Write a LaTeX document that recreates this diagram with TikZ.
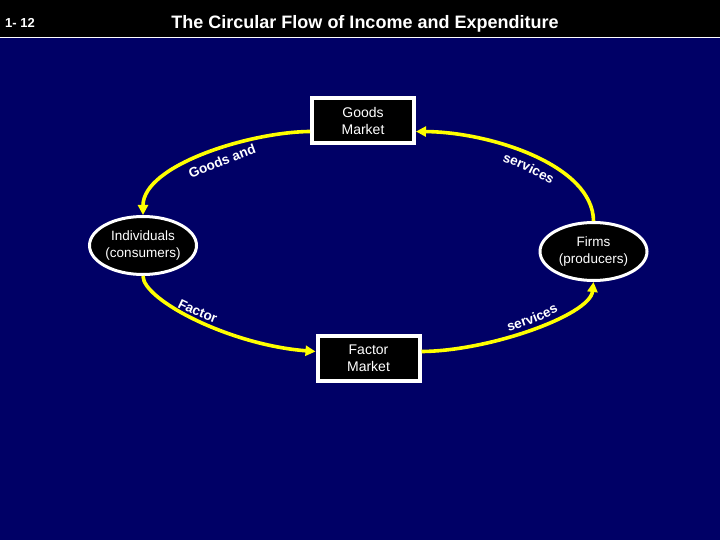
\documentclass[tikz,border=0pt]{standalone}
\usepackage{fontspec}
\setmainfont{Liberation Sans}
\usetikzlibrary{shapes.geometric,arrows.meta,decorations.text}
\definecolor{navy}{RGB}{0,0,102}
\definecolor{flowyellow}{RGB}{255,255,0}
\newcommand\lblfont{\fontsize{13.5}{16}\selectfont\bfseries}
\begin{document}
\begin{tikzpicture}[x=1pt,y=-1pt,
  market/.style={draw=white, fill=black, line width=4pt, text=white,
    minimum width=102pt, minimum height=45pt, inner sep=0pt, align=center,
    font=\fontsize{14}{17}\selectfont},
  agent/.style={ellipse, draw=white, fill=black, line width=3pt, text=white,
    minimum width=107pt, minimum height=58pt, inner sep=0pt, align=center,
    font=\fontsize{13.5}{17}\selectfont},
  flow/.style={draw=flowyellow, line width=3.6pt, -{Triangle[length=10pt,width=10pt]}},
  lbl/.style={decorate, decoration={text along path, text align=center, text color=white}},
  titletext/.style={text=white, inner sep=0pt, font=\fontsize{18}{21}\selectfont\bfseries},
  pagetext/.style={text=white, inner sep=0pt, font=\fontsize{13}{15}\selectfont\bfseries}
]
\useasboundingbox (0,0) rectangle (720,540);
\fill[navy] (0,0) rectangle (720,540);
\fill[black] (0,0) rectangle (720,37);
\draw[white, line width=1.5pt] (0,37.5) -- (720,37.5);

\node[titletext, anchor=base] (ttl) at (365,29) {The Circular Flow of Income and Expenditure};
\node[pagetext, anchor=base west] (pg) at (5,28) {1- 12};

\node[market] (goods) at (363,120.5) {Goods\\Market};
\node[market] (factor) at (368.5,358.5) {Factor\\Market};
\node[agent] (ind) at (143,245.5) {Individuals\\(consumers)};
\node[agent] (firms) at (593.5,251.5) {Firms\\(producers)};

\draw[flow] ([yshift=-11pt]goods.west) .. controls (250,132) and (143,165) .. (ind.north);
\draw[flow] (firms.north) .. controls (593,165) and (490,132) .. ([yshift=-11pt]goods.east);
\draw[flow] (ind.south) .. controls (143,300) and (230,345) .. ([yshift=7pt]factor.west);
\draw[flow] ([yshift=7pt]factor.east) .. controls (490,351) and (590,315) .. (firms.south);

\path[lbl, decoration={text={|\lblfont|Goods and}}] (184,182) .. controls (205,173) and (235,160) .. (264,150);
\path[lbl, decoration={text={|\lblfont|services}}] (492,158) .. controls (515,165) and (538,176) .. (560,190);
\path[lbl, decoration={text={|\lblfont|Factor}}] (165,301) .. controls (185,312) and (205,320) .. (228,328);
\path[lbl, decoration={text={|\lblfont|services}}] (498,334) .. controls (520,329) and (545,320) .. (568,306);
\end{tikzpicture}
\end{document}
